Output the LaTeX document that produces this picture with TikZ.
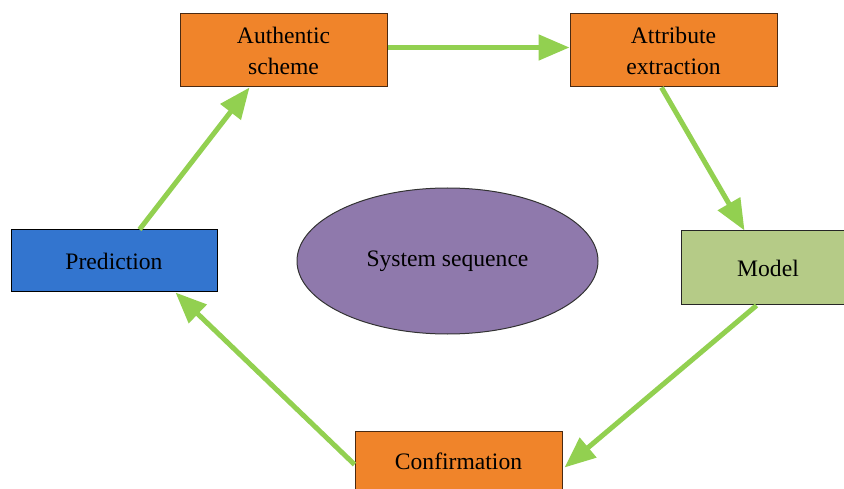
\documentclass[tikz,border=0pt]{standalone}
\usepackage{fontspec}
\setmainfont{Liberation Serif}
\usetikzlibrary{arrows.meta,shapes.geometric,calc}

\definecolor{boxorange}{HTML}{F0842A}
\definecolor{boxblue}{HTML}{3375CF}
\definecolor{boxolive}{HTML}{B5CB87}
\definecolor{ellpurple}{HTML}{8F79AC}
\definecolor{flowgreen}{HTML}{92D050}
\definecolor{edgebrown}{HTML}{4A2A12}

\tikzset{
  stage/.style={rectangle, draw=#1, line width=1pt, inner sep=0pt,
    align=center, font=\fontsize{23.6}{31}\selectfont, text=black},
  flow/.style={draw=flowgreen, line width=5pt,
    -{Triangle[length=31pt,width=25pt]}}
}

\begin{document}
\begin{tikzpicture}[x=1pt,y=-1pt]
  \clip (0,0) rectangle (844,489);

  % process stages
  \node[stage=edgebrown, fill=boxorange, minimum width=207pt, minimum height=73pt]
    (auth) at (283.5,50.5) {Authentic\\scheme};
  \node[stage=edgebrown, fill=boxorange, minimum width=207pt, minimum height=73pt]
    (attr) at (673.5,50.5) {Attribute\\extraction};
  \node[stage=black!85, fill=boxolive, minimum width=174pt, minimum height=74pt]
    (model) at (768,268) {Model};
  \node[stage=edgebrown, fill=boxorange, minimum width=207pt, minimum height=60pt]
    (conf) at (458.5,461) {Confirmation};
  \node[stage=black, fill=boxblue, minimum width=206pt, minimum height=62pt]
    (pred) at (114,261) {Prediction};

  % centre label
  \node[ellipse, draw=black!80, line width=1pt, fill=ellpurple, inner sep=0pt,
        minimum width=301pt, minimum height=146pt,
        font=\fontsize{23.6}{31}\selectfont]
    (sys) at (447.5,261) {System sequence};

  % cycle of arrows
  \draw[flow] ($(auth.north east)+(0,34)$) -- ($(attr.north west)+(0,34)$);
  \draw[flow] ($(attr.south west)+(92,0)$) -- ($(model.north west)+(64,0)$);
  \draw[flow] ($(model.south west)+(76,0)$) -- ($(conf.north east)+(2,37)$);
  \draw[flow] ($(conf.north west)+(0,34)$) -- ($(pred.south west)+(165,0)$);
  \draw[flow] ($(pred.north west)+(129,0)$) -- ($(auth.south west)+(70,0)$);
\end{tikzpicture}
\end{document}
